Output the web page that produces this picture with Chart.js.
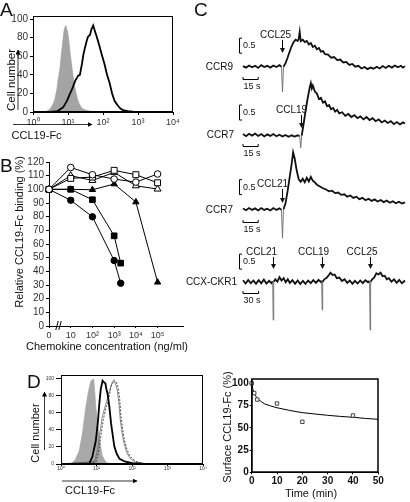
<!DOCTYPE html>
<html><head><meta charset="utf-8">
<script src="https://cdn.jsdelivr.net/npm/chart.js@4.4.1/dist/chart.umd.min.js"></script>
<style>
html,body{margin:0;padding:0;background:#fff;}
#wrap{position:relative;width:410px;height:502px;overflow:hidden;}
#wrap canvas{position:absolute;}
#wrap svg{position:absolute;left:0;top:0;}
</style></head><body><div id="wrap">
<svg width="410" height="502" font-family="Liberation Sans, Arial, sans-serif" fill="#111">
<defs><marker id="ah" markerWidth="5" markerHeight="5" refX="4.5" refY="2.5" orient="auto" markerUnits="userSpaceOnUse"><path d="M0,0 L5,2.5 L0,5 z" fill="#000"/></marker></defs>
<text x="0" y="15.5" font-size="19">A</text>
<text transform="translate(14.5,80) rotate(-90)" text-anchor="middle" font-size="11.5">Cell number</text>
<line x1="18" y1="110" x2="18" y2="50" stroke="#000" stroke-width="0.8" marker-end="url(#ah)"/>
<text x="11.5" y="139" font-size="11">CCL19-Fc</text>
<line x1="13" y1="124.5" x2="92" y2="124.5" stroke="#000" stroke-width="0.8" marker-end="url(#ah)"/>
<text x="0" y="172" font-size="19">B</text>
<text transform="translate(23,232) rotate(-90)" text-anchor="middle" font-size="11">Relative CCL19-Fc binding (%)</text>
<text x="107" y="350" text-anchor="middle" font-size="11">Chemokine concentration (ng/ml)</text>
<text x="194" y="16" font-size="19">C</text>
<text x="27" y="388" font-size="19">D</text>
<text transform="translate(38.5,433) rotate(-90)" text-anchor="middle" font-size="11">Cell number</text>
<line x1="44.5" y1="450" x2="44.5" y2="392" stroke="#000" stroke-width="0.8" marker-end="url(#ah)"/>
<text x="65" y="494" font-size="11">CCL19-Fc</text>
<line x1="62" y1="481" x2="137" y2="481" stroke="#000" stroke-width="0.8" marker-end="url(#ah)"/>
<text transform="translate(231,427) rotate(-90)" text-anchor="middle" font-size="11">Surface CCL19-Fc (%)</text>
<text x="311" y="497" text-anchor="middle" font-size="11">Time (min)</text>
</svg>
</div>
<script>
// ================= DATA =================
// Panel A: flow histogram (x = log10 fluorescence)
const aTickLabels = ['10⁰', '10¹', '10²', '10³', '10⁴'];
const aTicksY = [0, 20, 40, 60, 80, 100];
const aGrayX = [0, 0.30, 0.40, 0.48, 0.55, 0.62, 0.68, 0.73, 0.77, 0.81, 0.85, 0.88, 0.91, 0.94, 0.96, 0.99, 1.02, 1.06, 1.10, 1.14, 1.18, 1.22, 1.27, 1.32, 1.38, 1.45, 1.55, 1.70, 2.00, 4.0];
const aGrayY = [0, 0, 1, 3, 7, 13, 24, 38, 47, 62, 76, 86, 91, 93, 90, 86, 78, 64, 52, 40, 30, 22, 14, 9, 5, 3, 1.5, 0.5, 0, 0];
const aBlackX = [0, 0.5, 0.7, 0.86, 0.97, 1.06, 1.11, 1.17, 1.21, 1.26, 1.29, 1.34, 1.40, 1.44, 1.49, 1.53, 1.57, 1.63, 1.67, 1.72, 1.77, 1.83, 1.89, 1.97, 2.04, 2.11, 2.19, 2.26, 2.33, 2.40, 2.49, 2.57, 2.71, 2.86, 3.06, 4.0];
const aBlackY = [0, 0, 1, 5, 12, 20, 24, 30, 34, 37, 39, 40, 52, 62, 70, 76, 81, 83, 89, 93, 87, 80, 72, 61, 52, 41, 31, 20, 12, 8, 4, 2, 1, 0.3, 0, 0];

// Panel B: competition binding
const bTickLabels = ['0', '10', '10²', '10³', '10⁴', '10⁵'];
const bTicksY = [0, 10, 20, 30, 40, 50, 60, 70, 80, 90, 100, 110, 120];
const bConcLong = [0, 10, 100, 1000, 10000, 100000];
const bConcShort = [0, 10, 100, 1000, 2000];
const bOpenCircle = [100, 116, 110.7, 107.5, 105.3, 111.2];
const bOpenSquare = [100, 108, 109, 113.9, 110.7, 104.8];
const bOpenTriangle = [100, 110, 106.5, 112.4, 102.6, 100.2];
const bFilledTriangle = [100, 100, 99.7, 103.9, 90.7, 32];
const bFilledSquare = [100, 100, 92.4, 66, 46];
const bFilledCircle = [100, 92, 79.9, 47.9, 31.3];

// Panel C: calcium traces [time s, ratio]
const traceCCR9 = [[0,1.02],[3,0.97],[6,1.04],[9,0.98],[12,1.03],[15,0.96],[18,1.05],[21,0.99],[24,1.03],[27,0.97],[30,1.04],[33,0.99],[36,1.05],[38,1.0],[39,0.16],[40,1.0],[42,1.12],[44,1.3],[46,1.5],[48,1.68],[50,1.82],[52,1.9],[54,1.86],[55,1.93],[56,2.16],[57,1.85],[59,1.9],[61,1.82],[63,1.86],[65,1.74],[67,1.79],[69,1.66],[71,1.7],[73,1.58],[75,1.62],[77,1.5],[79,1.52],[81,1.42],[84,1.4],[87,1.3],[90,1.32],[93,1.22],[96,1.24],[99,1.14],[102,1.16],[105,1.06],[108,1.09],[111,1.0],[114,1.03],[117,0.94],[120,0.99],[123,0.92],[126,0.97],[129,0.93],[132,1.0],[135,0.94],[138,1.02],[141,0.96],[144,1.03],[147,0.97],[150,1.04],[153,0.98],[156,1.03],[158,0.97],[160,1.02]];
const traceCCR7a = [[0,1.03],[3,0.96],[6,1.04],[9,0.98],[12,1.05],[15,0.97],[18,1.03],[21,0.95],[24,1.02],[27,0.97],[30,1.03],[33,0.96],[36,1.01],[39,0.95],[42,1.0],[45,0.94],[48,0.99],[51,0.95],[54,0.99],[56,0.96],[57,0.57],[58,0.98],[60,1.4],[62,1.85],[64,2.25],[66,2.6],[67,2.73],[68,2.55],[69,2.65],[71,2.45],[73,2.38],[75,2.2],[77,2.24],[79,2.08],[81,2.12],[83,1.96],[85,2.0],[87,1.86],[89,1.9],[91,1.78],[93,1.84],[95,1.72],[98,1.76],[101,1.64],[104,1.7],[107,1.6],[110,1.66],[113,1.56],[116,1.62],[119,1.52],[122,1.6],[125,1.5],[128,1.56],[131,1.46],[134,1.52],[137,1.42],[140,1.48],[143,1.4],[146,1.46],[149,1.36],[152,1.43],[155,1.35],[158,1.42],[160,1.38]];
const traceCCR7b = [[0,1.03],[3,0.97],[6,1.04],[9,0.98],[12,1.03],[15,0.96],[18,1.04],[21,0.98],[24,1.02],[27,0.96],[30,1.04],[33,0.98],[36,1.03],[38,0.98],[39,0.04],[40,1.0],[42,1.2],[44,1.6],[46,2.05],[48,2.5],[49.5,2.9],[51,2.7],[53,2.3],[55,2.0],[57,1.92],[59,2.02],[61,1.9],[63,2.05],[65,1.93],[67,2.08],[69,1.95],[71,1.9],[73,1.82],[76,1.76],[79,1.7],[82,1.66],[85,1.6],[88,1.62],[91,1.54],[94,1.56],[97,1.48],[100,1.5],[103,1.42],[106,1.46],[109,1.38],[112,1.42],[115,1.34],[118,1.38],[121,1.3],[124,1.35],[127,1.28],[130,1.33],[133,1.26],[136,1.31],[139,1.24],[142,1.29],[145,1.22],[148,1.27],[151,1.2],[154,1.25],[157,1.19],[160,1.23]];
const traceCCX = [[0,1.05],[5,0.94],[10,1.06],[15,0.95],[20,1.04],[25,0.93],[30,1.05],[35,0.95],[40,1.07],[45,0.94],[50,1.03],[55,0.95],[57,1.02],[58,-0.28],[59,1.0],[62,1.08],[66,1.0],[70,1.15],[74,1.04],[78,1.12],[82,0.98],[86,1.08],[90,0.96],[95,1.05],[100,0.93],[105,1.04],[110,0.92],[115,1.03],[120,0.93],[125,1.04],[130,0.95],[135,1.05],[140,0.96],[145,1.06],[150,0.98],[151,1.04],[152,0.06],[153,1.0],[156,1.08],[160,1.12],[164,1.2],[168,1.3],[172,1.22],[176,1.24],[180,1.12],[185,1.14],[190,1.02],[195,1.08],[200,0.96],[205,1.04],[210,0.93],[215,1.03],[220,0.94],[225,1.04],[230,0.95],[235,1.05],[240,0.98],[243,1.03],[244,-0.61],[245,1.0],[248,1.08],[252,1.14],[256,1.28],[260,1.24],[264,1.3],[268,1.18],[272,1.2],[276,1.08],[280,1.12],[285,1.0],[290,1.08],[295,0.96],[300,1.06],[305,0.95],[311,1.04]];

// Panel D left: histograms
const dTickLabels = ['10⁰', '10¹', '10²', '10³', '10⁴'];
const dTicksY = [0, 20, 40, 60, 80, 100];
const dGrayX = [0, 0.28, 0.40, 0.51, 0.60, 0.70, 0.77, 0.84, 0.88, 0.92, 0.95, 0.98, 1.04, 1.08, 1.16, 1.25, 1.36, 4];
const dGrayY = [0, 0, 5, 15, 35, 67, 85, 97, 99, 100, 85, 67, 45, 31, 10, 3, 0, 0];
const dBlackX = [0, 0.79, 0.88, 0.98, 1.04, 1.08, 1.12, 1.17, 1.21, 1.25, 1.28, 1.31, 1.36, 1.41, 1.46, 1.50, 1.57, 1.65, 1.79, 2.01, 2.35, 4];
const dBlackY = [0, 0, 8, 27, 50, 71, 88, 98, 96, 95, 88, 83, 68, 48, 33, 21, 12, 6, 3, 1, 0, 0];
const dDashX = [0, 0.98, 1.05, 1.13, 1.19, 1.27, 1.32, 1.36, 1.41, 1.46, 1.50, 1.55, 1.60, 1.65, 1.69, 1.74, 1.79, 1.86, 1.93, 2.01, 2.12, 2.27, 2.50, 4];
const dDashY = [0, 2, 12, 35, 52, 67, 72, 80, 91, 95, 99, 97, 91, 78, 55, 40, 27, 17, 10, 6, 3, 1, 0, 0];
const dThinX = [0, 0.95, 1.02, 1.10, 1.16, 1.23, 1.29, 1.34, 1.39, 1.44, 1.48, 1.53, 1.58, 1.63, 1.67, 1.72, 1.77, 1.84, 1.91, 1.99, 2.10, 2.25, 2.48, 4];
const dThinY = [0, 3, 15, 38, 55, 66, 74, 83, 89, 96, 98, 95, 88, 72, 52, 37, 25, 15, 9, 5, 2, 1, 0, 0];

// Panel D right: internalization time course
const eTicksX = [0, 10, 20, 30, 40, 50];
const eTicksY = [0, 25, 50, 75, 100];
const eTime = [0, 1, 2.2, 10, 20, 40];
const eSurface = [100, 89, 81.7, 77.3, 56.7, 63.8];
const eFitT = [0, 0.5, 1, 1.5, 2, 3, 4, 5, 7.5, 10, 15, 20, 25, 30, 35, 40, 45, 50];
const eFitV = [100, 93, 89, 86, 84, 81, 79, 77, 74.5, 72.5, 69.5, 67, 65.5, 64, 62.8, 61.8, 60.5, 59.5];

// ================= HELPERS =================
const FONT = '"Liberation Sans", Arial, Helvetica, sans-serif';
Chart.defaults.font.family = FONT;
Chart.defaults.color = '#222';
const wrap = document.getElementById('wrap');
const svgEl = wrap.querySelector('svg');

function mkCanvas(left, top, w, h) {
  const c = document.createElement('canvas');
  c.width = w; c.height = h;
  c.style.left = left + 'px'; c.style.top = top + 'px';
  c.style.width = w + 'px'; c.style.height = h + 'px';
  wrap.insertBefore(c, svgEl);
  return c;
}
function zeroPad(s) { s.paddingLeft = 0; s.paddingRight = 0; s.paddingTop = 0; s.paddingBottom = 0; }
function axis(o) {
  return {
    type: 'linear', position: o.pos, min: o.min, max: o.max, bounds: 'data',
    afterBuildTicks: s => { s.ticks = o.ticks.map(v => ({ value: v })); },
    afterFit: s => { if (o.pos === 'left') s.width = o.size; else s.height = o.size; zeroPad(s); },
    ticks: {
      autoSkip: false, maxRotation: 0, minRotation: 0,
      padding: o.pad === undefined ? 2 : o.pad,
      color: o.color || '#222',
      font: { size: o.fs || 10, weight: o.fw || 'normal' },
      callback: (v, i) => o.labels ? o.labels[i] : String(v)
    },
    grid: { display: true, drawOnChartArea: false, drawTicks: true, tickLength: o.tl === undefined ? 3 : o.tl, tickWidth: o.tw || 1, tickColor: '#000', color: '#000' },
    border: { display: true, color: '#000', width: o.bw || 1 }
  };
}
function xy(xs, ys) { return xs.map((x, i) => ({ x: x, y: ys[i] })); }
function pairs(p) { return p.map(d => ({ x: d[0], y: d[1] })); }
const logPos = c => (c === 0 ? 0 : Math.log10(c));

const framePlugin = {
  id: 'frame',
  afterDraw(chart, args, o) {
    const a = chart.chartArea, ctx = chart.ctx, lw = o.lw || 1;
    ctx.save(); ctx.strokeStyle = '#000'; ctx.lineWidth = lw;
    const off = lw % 2 === 1 ? 0.5 : 0;
    const L = Math.round(a.left) + off, T = Math.round(a.top) + off, R = Math.round(a.right) - off, B = Math.round(a.bottom) - off;
    ctx.strokeRect(L, T, R - L, B - T);
    ctx.restore();
  }
};
const breakPlugin = {
  id: 'brk',
  afterDraw(chart, args, o) {
    const ctx = chart.ctx, x = chart.scales.x.getPixelForValue(o.at), y = chart.scales.y.getPixelForValue(0);
    ctx.save(); ctx.strokeStyle = '#000'; ctx.lineWidth = 1;
    ctx.beginPath();
    ctx.moveTo(x - 3, y + 4); ctx.lineTo(x - 0.5, y - 5);
    ctx.moveTo(x, y + 4); ctx.lineTo(x + 2.5, y - 5);
    ctx.stroke(); ctx.restore();
  }
};
const tracePlugin = {
  id: 'trace',
  afterDatasetsDraw(chart, args, o) {
    const ctx = chart.ctx, xs = chart.scales.x, ys = chart.scales.y, ca = chart.chartArea;
    ctx.save();
    ctx.strokeStyle = '#000'; ctx.fillStyle = '#111'; ctx.lineWidth = 1;
    ctx.font = '10px ' + FONT; ctx.textAlign = 'right'; ctx.textBaseline = 'middle';
    ctx.fillText(o.name, ca.left + o.nameDx, ys.getPixelForValue(1) + 0.5);
    const bx = Math.round(ca.left - 4.5) + 0.5, by1 = ys.getPixelForValue(o.vbar[1]), by0 = ys.getPixelForValue(o.vbar[0]);
    ctx.beginPath(); ctx.moveTo(bx + 2.5, by1); ctx.lineTo(bx, by1); ctx.lineTo(bx, by0); ctx.lineTo(bx + 2.5, by0); ctx.stroke();
    ctx.font = '9px ' + FONT; ctx.textAlign = 'left'; ctx.textBaseline = 'middle';
    ctx.fillText('0.5', bx + 3.5, (by0 + by1) / 2);
    const hy = Math.round(ys.getPixelForValue(o.hbar.v)) + 0.5, hx0 = xs.getPixelForValue(0), hx1 = xs.getPixelForValue(o.hbar.dt);
    ctx.beginPath(); ctx.moveTo(hx0, hy - 2.5); ctx.lineTo(hx0, hy); ctx.lineTo(hx1, hy); ctx.lineTo(hx1, hy - 2.5); ctx.stroke();
    ctx.textBaseline = 'middle'; ctx.fillText(o.hbar.text, hx0 + 0.5, hy + 7.5);
    ctx.font = '10px ' + FONT; ctx.textAlign = 'center'; ctx.textBaseline = 'alphabetic';
    o.inj.forEach(j => {
      const x = Math.round(xs.getPixelForValue(j.t)) + 0.5, y1 = ys.getPixelForValue(o.arrow[0]), y2 = ys.getPixelForValue(o.arrow[1]);
      ctx.beginPath(); ctx.moveTo(x, y1); ctx.lineTo(x, y2 - 3); ctx.stroke();
      ctx.beginPath(); ctx.moveTo(x - 2.5, y2 - 5); ctx.lineTo(x + 2.5, y2 - 5); ctx.lineTo(x, y2); ctx.closePath(); ctx.fill();
      ctx.fillText(j.label, x + j.dx, y1 - 2);
    });
    ctx.restore();
  }
};
function baseOpts(padding, scales, plugins) {
  return {
    responsive: false, maintainAspectRatio: false, animation: false, devicePixelRatio: 1,
    layout: { padding: padding },
    plugins: Object.assign({ legend: { display: false }, tooltip: { enabled: false } }, plugins || {}),
    scales: scales,
    elements: { line: { tension: 0 }, point: { radius: 0 } }
  };
}

// ================= PANEL A =================
new Chart(mkCanvas(0, 0, 180, 130), {
  type: 'line',
  data: { datasets: [
    { data: xy(aBlackX, aBlackY), borderColor: '#000', borderWidth: 1.8, pointRadius: 0, fill: false },
    { data: xy(aGrayX, aGrayY), borderColor: '#9c9c9c', backgroundColor: '#a4a4a4', borderWidth: 0.6, pointRadius: 0, fill: 'origin' }
  ] },
  options: baseOpts({ left: 0, top: 16, right: 7, bottom: 0 }, {
    x: axis({ pos: 'bottom', min: 0, max: 4, ticks: [0, 1, 2, 3, 4], labels: aTickLabels, size: 18, fs: 9, tl: 3, pad: 2, color: '#333' }),
    y: axis({ pos: 'left', min: 0, max: 103.3, ticks: aTicksY, size: 33, fs: 10, tl: 3, pad: 2, color: '#333' })
  }, { frame: { lw: 1 } }),
  plugins: [framePlugin]
});

// ================= PANEL B =================
function bSet(conc, vals, style, filled, r) {
  return { data: conc.map((c, i) => ({ x: logPos(c), y: vals[i] })), borderColor: '#000', borderWidth: 1, pointStyle: style, pointRadius: r,
    pointBackgroundColor: filled ? '#000' : '#fff', pointBorderColor: '#000', pointBorderWidth: 1, fill: false, clip: false };
}
new Chart(mkCanvas(0, 150, 190, 190), {
  type: 'line',
  data: { datasets: [
    bSet(bConcLong, bOpenCircle, 'circle', false, 3.3),
    bSet(bConcLong, bOpenSquare, 'rect', false, 4.2),
    bSet(bConcLong, bOpenTriangle, 'triangle', false, 4),
    bSet(bConcLong, bFilledTriangle, 'triangle', true, 3.6),
    bSet(bConcShort, bFilledSquare, 'rect', true, 4),
    bSet(bConcShort, bFilledCircle, 'circle', true, 3.2)
  ] },
  options: baseOpts({ left: 0, top: 12, right: 7, bottom: 0 }, {
    x: axis({ pos: 'bottom', min: 0, max: 6.17, ticks: [0, 1, 2, 3, 4, 5], labels: bTickLabels, size: 14, fs: 9, tl: 2, pad: 2, color: '#333' }),
    y: axis({ pos: 'left', min: 0, max: 120, ticks: bTicksY, size: 49, fs: 10, tl: 3, pad: 2, color: '#333' })
  }, { brk: { at: 0.45 } }),
  plugins: [breakPlugin]
});

// ================= PANEL C =================
function traceChart(top, h, pad, xmax, ymin, ymax, spikeTh, data, anno) {
  const isSpike = c => c.p0.parsed.y < spikeTh || c.p1.parsed.y < spikeTh;
  new Chart(mkCanvas(180, top, 230, h), {
    type: 'line',
    data: { datasets: [ { data: pairs(data), borderColor: '#111', borderWidth: 1.8, pointRadius: 0, fill: false, clip: false,
      segment: { borderColor: c => isSpike(c) ? '#6a6a6a' : undefined, borderWidth: c => isSpike(c) ? 0.9 : undefined } } ] },
    options: baseOpts(Object.assign({ left: 63, right: 5 }, pad), {
      x: { type: 'linear', display: false, min: 0, max: xmax },
      y: { type: 'linear', display: false, min: ymin, max: ymax }
    }, { trace: anno }),
    plugins: [tracePlugin]
  });
}
traceChart(25, 80, { top: 2.7, bottom: 2.3 }, 160, -0.2, 2.3, 0.7, traceCCR9,
  { name: 'CCR9', nameDx: -10, vbar: [1.45, 1.95], hbar: { v: 0.59, dt: 15, text: '15 s' }, arrow: [1.89, 1.46], inj: [{ t: 39, label: 'CCL25', dx: -7 }] });
traceChart(78, 90, { top: 1.5, bottom: 3 }, 160, 0, 2.85, 0.75, traceCCR7a,
  { name: 'CCR7', nameDx: -9, vbar: [1.5, 2.0], hbar: { v: 0.63, dt: 15, text: '15 s' }, arrow: [1.67, 1.23], inj: [{ t: 57.3, label: 'CCL19', dx: -10 }] });
traceChart(145, 100, { top: 2.8, bottom: 2.7 }, 160, -0.1, 3.05, 0.7, traceCCR7b,
  { name: 'CCR7', nameDx: -10, vbar: [1.49, 1.99], hbar: { v: 0.58, dt: 15, text: '15 s' }, arrow: [1.68, 1.21], inj: [{ t: 39, label: 'CCL21', dx: -10 }] });
traceChart(243, 95, { top: 2.7, bottom: 2.3 }, 311, -0.8, 2.2, 0.5, traceCCX,
  { name: 'CCX-CKR1', nameDx: -6, vbar: [1.42, 1.92], hbar: { v: 0.62, dt: 30, text: '30 s' }, arrow: [1.82, 1.42],
    inj: [{ t: 57.6, label: 'CCL21', dx: -12 }, { t: 151.7, label: 'CCL19', dx: -9 }, { t: 243.9, label: 'CCL25', dx: -8.5 }] });

// ================= PANEL D left =================
new Chart(mkCanvas(30, 370, 180, 102), {
  type: 'line',
  data: { datasets: [
    { data: xy(dBlackX, dBlackY), borderColor: '#000', borderWidth: 1.8, pointRadius: 0, fill: false },
    { data: xy(dDashX, dDashY), borderColor: '#333', borderWidth: 0.9, borderDash: [2, 1.5], pointRadius: 0, fill: false },
    { data: xy(dThinX, dThinY), borderColor: '#555', borderWidth: 0.7, pointRadius: 0, fill: false },
    { data: xy(dGrayX, dGrayY), borderColor: '#a0a0a0', backgroundColor: '#a8a8a8', borderWidth: 0.6, pointRadius: 0, fill: 'origin' }
  ] },
  options: baseOpts({ left: 0, top: 5, right: 7, bottom: 0 }, {
    x: axis({ pos: 'bottom', min: 0, max: 4, ticks: [0, 1, 2, 3, 4], labels: dTickLabels, size: 8, fs: 5, tl: 2, pad: 0, color: '#333' }),
    y: axis({ pos: 'left', min: 0, max: 104.7, ticks: dTicksY, size: 31, fs: 5, tl: 5, pad: 2, color: '#333' })
  }, { frame: { lw: 1 } }),
  plugins: [framePlugin]
});

// ================= PANEL D right =================
new Chart(mkCanvas(215, 370, 195, 132), {
  type: 'line',
  data: { datasets: [
    { data: xy(eTime, eSurface), showLine: false, pointStyle: 'rect', pointRadius: 2.4, pointBackgroundColor: '#fff', pointBorderColor: '#444', pointBorderWidth: 1, clip: false },
    { data: xy(eFitT, eFitV), borderColor: '#000', borderWidth: 1, pointRadius: 0, fill: false }
  ] },
  options: baseOpts({ left: 0, top: 9, right: 31.7, bottom: 0 }, {
    x: axis({ pos: 'bottom', min: 0, max: 50, ticks: eTicksX, size: 29.7, fs: 10, fw: 'bold', tl: 2, pad: 1, color: '#111' }),
    y: axis({ pos: 'left', min: 0, max: 104.8, ticks: eTicksY, size: 36.7, fs: 10, fw: 'bold', tl: 2, pad: 1, color: '#111' })
  }, { frame: { lw: 1.5 } }),
  plugins: [framePlugin]
});
</script>
</body></html>
